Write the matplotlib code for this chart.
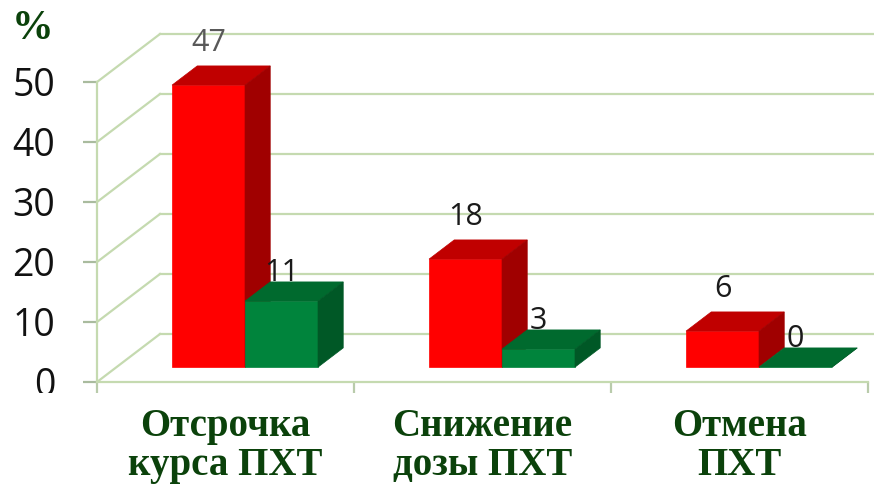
import matplotlib.pyplot as plt
from matplotlib.patches import Polygon
from matplotlib.transforms import Bbox

categories = ["Отсрочка\nкурса ПХТ", "Снижение\nдозы ПХТ", "Отмена\nПХТ"]
red_values = [47, 18, 6]
green_values = [11, 3, 0]
y_ticks = [0, 10, 20, 30, 40, 50]

# псевдо-3D: сдвиг задней стенки в единицах данных
DX = 63 / 257
DY = 8.0
Z0, Z1 = 0.31, 0.71          # глубина столбиков
BAR_W = 0.284
GRID = "#c5dab0"
TEXT_GREEN = "#0b420b"

RED = ("#ff0000", "#c00000", "#a00000")      # перед, верх, бок
GREEN = ("#00843c", "#006a2e", "#005826")


def proj(x, y, z):
    return (x + z * DX, y + z * DY)


def draw_box(ax, x0, w, h, colors, zo):
    front, top, side = colors
    x1 = x0 + w
    faces = [
        ([proj(x0, 0, Z0), proj(x1, 0, Z0), proj(x1, h, Z0), proj(x0, h, Z0)], front),
        ([proj(x0, h, Z0), proj(x1, h, Z0), proj(x1, h, Z1), proj(x0, h, Z1)], top),
        ([proj(x1, 0, Z0), proj(x1, 0, Z1), proj(x1, h, Z1), proj(x1, h, Z0)], side),
    ]
    for pts, c in faces:
        ax.add_patch(Polygon(pts, closed=True, facecolor=c, edgecolor=c,
                             lw=0.5, clip_on=False, zorder=zo))


fig = plt.figure(figsize=(8.74, 4.88), dpi=100)
ax = fig.add_axes([97 / 874, 106 / 488, 771 / 874, 300 / 488])
ax.set_xlim(0, 3)
ax.set_ylim(0, 50)

# задняя и левая стенки
for v in y_ticks:
    bx, by = proj(0, v, 1)
    ax.plot([bx, 4], [by, by], color=GRID, lw=1.6, clip_on=False, zorder=1)
    ax.plot([0, bx], [v, by], color=GRID, lw=1.6, clip_on=False, zorder=1)

for sp in ["top", "right"]:
    ax.spines[sp].set_visible(False)
for sp in ["left", "bottom"]:
    ax.spines[sp].set_color(GRID)
    ax.spines[sp].set_linewidth(1.6)
    ax.spines[sp].set_zorder(2)

ax.set_yticks(y_ticks)
ax.set_yticklabels([str(v) for v in y_ticks], fontfamily="Open Sans",
                   fontsize=27, color="#111111")
ax.tick_params(axis="y", length=10, width=1.6, color="#a9bb9e", pad=20)
ax.set_xticks([0, 1, 2, 3])
ax.set_xticklabels([])
ax.tick_params(axis="x", length=8, width=1.6, color="#b9cbab")

# у нижней подписи "0" обрезан низ, как в оригинале
zero_lbl = ax.get_yticklabels()[0]
zero_lbl.set_clip_on(True)
zero_lbl.set_clip_box(Bbox.from_extents(0, 95, 97, 140))

for i, cat in enumerate(categories):
    ax.text(i + 0.5, -4.4, cat, ha="center", va="top", fontsize=28,
            fontfamily="Liberation Serif", fontweight="bold",
            color=TEXT_GREEN, linespacing=1.05, clip_on=False)

# столбики
for i in range(len(categories)):
    xr = i + 0.5 - BAR_W
    xg = i + 0.5
    draw_box(ax, xr, BAR_W, red_values[i], RED, 3)
    draw_box(ax, xg, BAR_W, green_values[i], GREEN, 4)

    cx, _ = proj(xr + BAR_W / 2, 0, Z0)
    ax.text(cx, red_values[i] + Z0 * DY + 4.6, str(red_values[i]),
            ha="center", va="bottom", fontsize=22, fontfamily="Open Sans",
            color="#595959" if i == 0 else "#1a1a1a", clip_on=False, zorder=6)
    cx, _ = proj(xg + BAR_W / 2, 0, Z0)
    ax.text(cx, green_values[i] + Z0 * DY + 2.2, str(green_values[i]),
            ha="center", va="bottom", fontsize=22, fontfamily="Open Sans",
            color="#1a1a1a", clip_on=False, zorder=6)

fig.text(33 / 874, 1 - 29 / 488, "%", ha="center", va="center", fontsize=30,
         fontfamily="Liberation Serif", fontweight="bold", color=TEXT_GREEN)

fig.savefig("out.png", dpi=100)
